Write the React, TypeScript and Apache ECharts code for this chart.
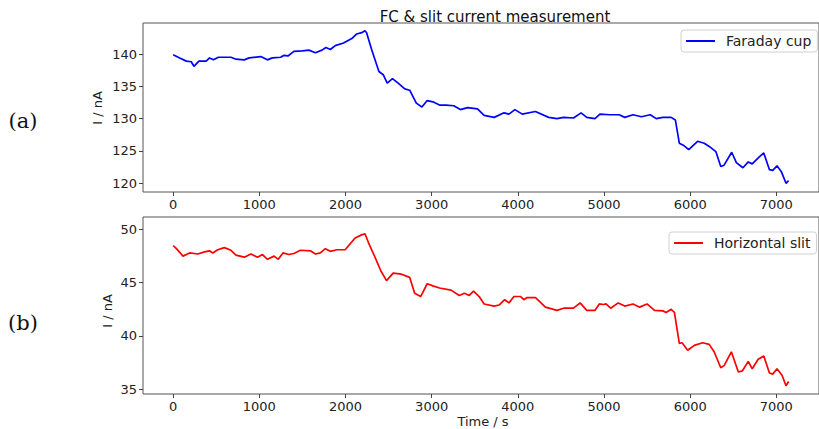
import React, { useEffect, useRef } from "react";
import * as echarts from "echarts";

const xTicks = [0, 1000, 2000, 3000, 4000, 5000, 6000, 7000];
const fcTicks = [120, 125, 130, 135, 140];
const slitTicks = [35, 40, 45, 50];

const fcTime = [0, 76, 153, 210, 241, 299, 383, 422, 468, 525, 671, 729, 825, 882, 1017, 1094, 1151, 1248, 1286, 1332, 1401, 1497, 1574, 1651, 1727, 1773, 1824, 1881, 1977, 2073, 2130, 2188, 2226, 2245, 2303, 2388, 2438, 2484, 2545, 2611, 2688, 2745, 2822, 2887, 2948, 3014, 3091, 3167, 3256, 3333, 3417, 3532, 3609, 3725, 3840, 3897, 3966, 4051, 4204, 4358, 4454, 4531, 4646, 4734, 4800, 4895, 4953, 5068, 5176, 5241, 5337, 5433, 5537, 5606, 5683, 5779, 5828, 5874, 5920, 5983, 6086, 6163, 6221, 6298, 6355, 6393, 6482, 6536, 6612, 6674, 6720, 6796, 6854, 6920, 6958, 7008, 7058, 7112, 7142];
const fcCurrent = [139.9, 139.4, 138.9, 138.8, 138.1, 138.9, 138.9, 139.4, 139.1, 139.5, 139.5, 139.2, 139.1, 139.4, 139.6, 139.1, 139.4, 139.5, 139.8, 139.7, 140.4, 140.5, 140.6, 140.2, 140.6, 141.0, 140.7, 141.3, 141.7, 142.4, 143.1, 143.3, 143.6, 143.3, 140.7, 137.3, 136.8, 135.5, 136.2, 135.5, 134.6, 134.4, 132.4, 131.8, 132.8, 132.6, 132.1, 132.1, 132.0, 131.4, 131.7, 131.5, 130.5, 130.2, 130.9, 130.7, 131.4, 130.7, 131.1, 130.2, 130.0, 130.2, 130.1, 130.9, 130.2, 130.0, 130.7, 130.6, 130.6, 130.2, 130.6, 130.3, 130.6, 130.0, 130.2, 130.2, 129.8, 126.2, 125.9, 125.2, 126.5, 126.2, 125.7, 124.9, 122.6, 122.8, 124.8, 123.2, 122.4, 123.3, 123.0, 124.0, 124.7, 122.1, 122.0, 122.7, 121.8, 120.0, 120.4];

const slitTime = [0, 38, 114, 191, 287, 364, 422, 460, 517, 594, 671, 729, 825, 902, 979, 1036, 1094, 1171, 1220, 1274, 1343, 1401, 1478, 1593, 1651, 1708, 1766, 1824, 1900, 1996, 2111, 2188, 2226, 2265, 2342, 2411, 2476, 2553, 2649, 2745, 2803, 2872, 2948, 3014, 3091, 3225, 3321, 3379, 3436, 3486, 3551, 3609, 3725, 3782, 3847, 3897, 3955, 4032, 4070, 4109, 4205, 4320, 4454, 4531, 4646, 4723, 4800, 4896, 4946, 4992, 5023, 5077, 5165, 5241, 5337, 5414, 5499, 5587, 5683, 5721, 5779, 5817, 5874, 5906, 5971, 6048, 6144, 6221, 6278, 6355, 6394, 6478, 6559, 6605, 6674, 6720, 6789, 6854, 6920, 6958, 7008, 7066, 7112, 7142];
const slitCurrent = [48.5, 48.2, 47.5, 47.8, 47.7, 47.9, 48.0, 47.8, 48.1, 48.3, 48.05, 47.6, 47.4, 47.7, 47.4, 47.65, 47.2, 47.5, 47.2, 47.8, 47.65, 47.75, 48.05, 48.0, 47.7, 47.8, 48.2, 47.95, 48.1, 48.1, 49.2, 49.5, 49.6, 48.8, 47.4, 46.1, 45.2, 45.9, 45.8, 45.5, 44.0, 43.7, 44.9, 44.7, 44.5, 44.3, 43.8, 44.0, 43.8, 44.2, 43.7, 43.0, 42.8, 42.9, 43.4, 43.1, 43.7, 43.7, 43.4, 43.6, 43.6, 42.7, 42.4, 42.6, 42.6, 43.1, 42.4, 42.4, 43.0, 42.95, 43.0, 42.6, 43.1, 42.8, 43.0, 42.7, 43.0, 42.4, 42.35, 42.2, 42.5, 42.2, 39.3, 39.35, 38.65, 39.1, 39.35, 39.2, 38.5, 37.0, 37.2, 38.5, 36.6, 36.7, 37.6, 36.9, 37.8, 38.1, 36.5, 36.4, 36.9, 36.3, 35.3, 35.7];

const FONT = "DejaVu Sans";

export default function App() {
  const ref = useRef<HTMLDivElement>(null);
  useEffect(() => {
    if (!ref.current) return;
    const chart = echarts.init(ref.current, null, { renderer: "svg" });
    const fcData = fcTime.map((t, i) => [t, fcCurrent[i]]);
    const slitData = slitTime.map((t, i) => [t, slitCurrent[i]]);
    const fmt = (v: number) => String(v);
    const xAxisBase = (gridIndex: number) => ({
      type: "value",
      gridIndex,
      min: -350,
      max: 7495,
      splitLine: { show: false },
      axisLine: { show: false, onZero: false },
      axisTick: { show: true, length: 4, lineStyle: { color: "#444" }, customValues: xTicks },
      axisLabel: { customValues: xTicks, formatter: fmt, color: "#222", fontFamily: FONT, fontSize: 13, margin: 6 },
    });
    const yAxisBase = (gridIndex: number, min: number, max: number, ticks: number[]) => ({
      type: "value",
      gridIndex,
      min,
      max,
      splitLine: { show: false },
      axisLine: { show: false, onZero: false },
      axisTick: { show: true, length: 4, lineStyle: { color: "#444" }, customValues: ticks },
      axisLabel: { customValues: ticks, formatter: fmt, color: "#222", fontFamily: FONT, fontSize: 13, margin: 6 },
    });
    const legendBase = {
      orient: "horizontal",
      itemWidth: 29,
      itemHeight: 2,
      icon: "rect",
      backgroundColor: "#fff",
      borderColor: "#d0d0d0",
      borderWidth: 1,
      borderRadius: 3,
      textStyle: { fontFamily: FONT, fontSize: 14, color: "#222", padding: [0, 0, 0, 6] },
    };
    chart.setOption({
      animation: false,
      title: {
        text: "FC & slit current measurement",
        left: 490,
        top: 4,
        textAlign: "center",
        textStyle: { fontFamily: FONT, fontSize: 15, fontWeight: "normal", color: "#111" },
      },
      grid: [
        { left: 143, top: 23, right: -5, height: 169, show: true, borderColor: "#555", borderWidth: 1, backgroundColor: "transparent" },
        { left: 143, top: 217, right: -5, height: 177, show: true, borderColor: "#555", borderWidth: 1, backgroundColor: "transparent" },
      ],
      xAxis: [xAxisBase(0), xAxisBase(1)],
      yAxis: [yAxisBase(0, 118.65, 144.8, fcTicks), yAxisBase(1, 34.53, 51.18, slitTicks)],
      legend: [
        { ...legendBase, data: ["Faraday cup"], left: 681, top: 30, padding: [4, 6, 4, 5] },
        { ...legendBase, data: ["Horizontal slit"], left: 669, top: 232, padding: [4, 6, 4, 5] },
      ],
      series: [
        {
          name: "Faraday cup",
          type: "line",
          xAxisIndex: 0,
          yAxisIndex: 0,
          data: fcData,
          symbol: "none",
          showSymbol: false,
          color: "#0000ff",
          lineStyle: { width: 1.7, color: "#0000ff" },
        },
        {
          name: "Horizontal slit",
          type: "line",
          xAxisIndex: 1,
          yAxisIndex: 1,
          data: slitData,
          symbol: "none",
          showSymbol: false,
          color: "#ff0000",
          lineStyle: { width: 1.7, color: "#ff0000" },
        },
      ],
      graphic: [
        { type: "text", x: 97, y: 108, rotation: Math.PI / 2, style: { text: "I / nA", fontFamily: FONT, fontSize: 13, fill: "#222", align: "center", verticalAlign: "middle" } },
        { type: "text", x: 107, y: 311, rotation: Math.PI / 2, style: { text: "I / nA", fontFamily: FONT, fontSize: 13, fill: "#222", align: "center", verticalAlign: "middle" } },
        { type: "text", x: 483, y: 421, style: { text: "Time / s", fontFamily: FONT, fontSize: 13, fill: "#222", align: "center", verticalAlign: "middle" } },
        { type: "text", x: 23, y: 121, style: { text: "(a)", fontFamily: "DejaVu Serif", fontSize: 21, fill: "#111", align: "center", verticalAlign: "middle" } },
        { type: "text", x: 23, y: 323, style: { text: "(b)", fontFamily: "DejaVu Serif", fontSize: 21, fill: "#111", align: "center", verticalAlign: "middle" } },
      ],
    });
    return () => chart.dispose();
  }, []);
  return <div ref={ref} style={{ position: "absolute", left: 0, top: 0, width: 819, height: 429 }} />;
}
